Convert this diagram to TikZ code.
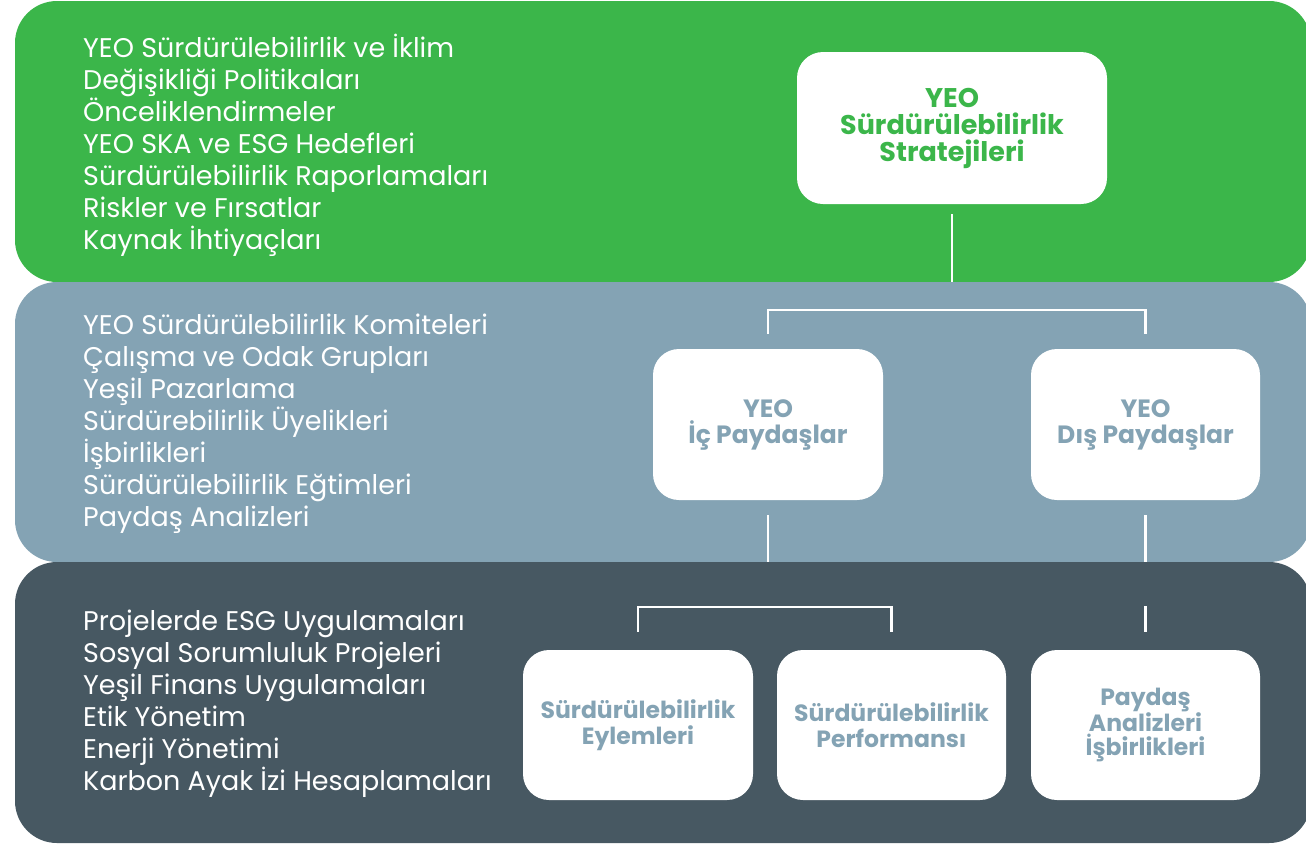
\documentclass[tikz,border=0pt]{standalone}
\usepackage{fontspec}
\setmainfont{Poppins}
\usepackage{xcolor}
\usepackage{tikz}
\usetikzlibrary{positioning,calc}
\definecolor{leaf}{RGB}{59,182,74}
\definecolor{steel}{RGB}{132,163,180}
\definecolor{slate}{RGB}{71,88,98}
\tikzset{
  band/.style={rounded corners=42pt},
  list/.style={anchor=west, align=left, inner sep=0pt, text=white, font=\fontsize{27}{32}\selectfont},
  card/.style={rounded corners=26pt, fill=white, align=center, inner sep=0pt, font=\bfseries\fontsize{23.5}{26}\selectfont},
  link/.style={draw=white, line width=2.6pt}
}

\begin{document}
\begin{tikzpicture}[x=1pt,y=-1pt]
  \useasboundingbox (0,0) rectangle (1306,844);
  \fill[band, leaf] (15,1) rectangle (1311,282);
  \fill[band, steel] (15,282) rectangle (1311,562);
  \fill[band, slate] (15,562) rectangle (1311,843);
  \coordinate (edge1) at (0,282);
  \coordinate (edge2) at (0,562);

  \node[list] (goals) at (83,145) {YEO Sürdürülebilirlik ve İklim\\Değişikliği Politikaları\\Önceliklendirmeler\\YEO SKA ve ESG Hedefleri\\Sürdürülebilirlik Raporlamaları\\Riskler ve Fırsatlar\\Kaynak İhtiyaçları};
  \node[list] (comm) at (83,424) {YEO Sürdürülebilirlik Komiteleri\\Çalışma ve Odak Grupları\\Yeşil Pazarlama\\Sürdürebilirlik Üyelikleri\\İşbirlikleri\\Sürdürülebilirlik Eğtimleri\\Paydaş Analizleri};
  \node[list] (apps) at (83,704) {Projelerde ESG Uygulamaları\\Sosyal Sorumluluk Projeleri\\Yeşil Finans Uygulamaları\\Etik Yönetim\\Enerji Yönetimi\\Karbon Ayak İzi Hesaplamaları};

  \node[card, text=leaf, minimum width=310pt, minimum height=152pt, font=\bfseries\fontsize{27}{27}\selectfont] (strat) at (952,128) {YEO\\Sürdürülebilirlik\\Stratejileri};
  \node[card, text=steel, minimum width=230pt, minimum height=151pt, font=\bfseries\fontsize{25}{26}\selectfont] (ic) at (768,424.5) {YEO\\İç Paydaşlar};
  \node[card, text=steel, minimum width=229pt, minimum height=151pt, font=\bfseries\fontsize{25}{26}\selectfont] (dis) at (1145.5,424.5) {YEO\\Dış Paydaşlar};
  \node[card, text=steel, minimum width=230pt, minimum height=150pt] (eylem) at (638,725) {Sürdürülebilirlik\\Eylemleri};
  \node[card, text=steel, minimum width=229pt, minimum height=150pt] (perf) at (891.5,725) {Sürdürülebilirlik\\Performansı};
  \node[card, text=steel, minimum width=229pt, minimum height=150pt, font=\bfseries\fontsize{23.5}{24}\selectfont] (analiz) at (1145.5,725) {Paydaş\\Analizleri\\İşbirlikleri};

  % connectors
  \draw[link] ([yshift=-10pt]strat.south) -- (strat.south |- edge1);
  \draw[link] ([yshift=15pt]ic.north) |- ([yshift=39pt]dis.north) -- ([yshift=15pt]dis.north);
  \draw[link] ([yshift=-15pt]ic.south) -- (ic.south |- edge2);
  \draw[link] ([yshift=-15pt]dis.south) -- (dis.south |- edge2);
  \draw[link] ([yshift=18pt]eylem.north) |- ([yshift=43pt]perf.north) -- ([yshift=18pt]perf.north);
  \draw[link] ([yshift=18pt]analiz.north) -- ([yshift=44pt]analiz.north);
\end{tikzpicture}
\end{document}
